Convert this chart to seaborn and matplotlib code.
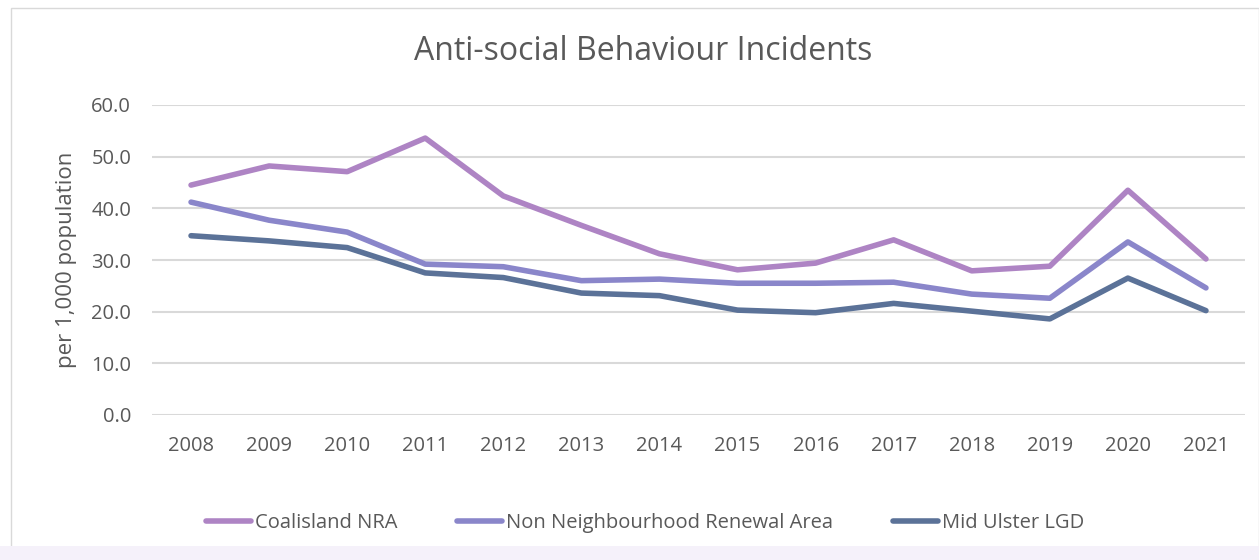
import matplotlib
matplotlib.use("Agg")
import matplotlib.pyplot as plt
import seaborn as sns
import pandas as pd
import numpy as np
from matplotlib.patches import Rectangle

years = [2008, 2009, 2010, 2011, 2012, 2013, 2014, 2015, 2016, 2017, 2018, 2019, 2020, 2021]
coalisland = [44.5, 48.2, 47.1, 53.6, 42.4, 36.7, 31.2, 28.1, 29.4, 33.9, 27.9, 28.8, 43.5, 30.2]
non_nra = [41.2, 37.7, 35.4, 29.2, 28.7, 26.0, 26.3, 25.5, 25.5, 25.7, 23.4, 22.6, 33.5, 24.6]
mid_ulster = [34.7, 33.7, 32.4, 27.5, 26.6, 23.6, 23.1, 20.3, 19.8, 21.6, 20.1, 18.6, 26.5, 20.2]

series_names = ["Coalisland NRA", "Non Neighbourhood Renewal Area", "Mid Ulster LGD"]
colors = ["#AE84C4", "#8A86CA", "#5B7298"]

df = pd.DataFrame({
    "year": [str(y) for y in years] * 3,
    "value": coalisland + non_nra + mid_ulster,
    "series": [series_names[0]] * 14 + [series_names[1]] * 14 + [series_names[2]] * 14,
})

sns.set_theme(style="white")
plt.rcParams["font.family"] = ["Open Sans", "DejaVu Sans"]

fig = plt.figure(figsize=(12.59, 5.6), dpi=100)
ax = fig.add_axes([152 / 1259, 1 - 415 / 560, (1245 - 152) / 1259, (415 - 105) / 560])

sns.lineplot(data=df, x="year", y="value", hue="series", palette=colors,
             linewidth=4, ax=ax, sort=False, solid_capstyle="round", legend=False)

ax.set_ylim(0, 60)
ax.set_yticks(np.arange(0, 61, 10))
ax.set_yticklabels([f"{v:.1f}" for v in np.arange(0, 61, 10)])
ax.set_xlim(-0.5, 13.5)
ax.grid(axis="y", color="#D9D9D9", linewidth=1.5)
ax.set_axisbelow(True)
for s in ax.spines.values():
    s.set_visible(False)
ax.tick_params(axis="y", length=0, labelsize=14.5, colors="#595959", pad=15)
ax.tick_params(axis="x", length=0, labelsize=14.5, colors="#595959", pad=15)
ax.set_xlabel("")
ax.set_ylabel("per 1,000 population", fontsize=16, color="#595959", labelpad=10)
fig.text(643 / 1259, 1 - 52 / 560, "Anti-social Behaviour Incidents", ha="center", va="center",
         fontsize=23, color="#595959")

# legend
handles = [plt.Line2D([0], [0], color=c, linewidth=4, solid_capstyle="round") for c in colors]
fig.legend(handles, series_names, loc="center", bbox_to_anchor=(645 / 1259, 1 - 523 / 560),
           ncol=3, frameon=False, fontsize=14.5, handlelength=2.2, handletextpad=0.2,
           columnspacing=3.0, labelcolor="#595959")

# chart border and bottom tint
fig.patches.append(Rectangle((11 / 1259, 1 - 548 / 560), (1259 - 11) / 1259, (548 - 8) / 560,
                             transform=fig.transFigure, fill=False, edgecolor="#D9D9D9", linewidth=1))
fig.patches.append(Rectangle((0, 0), 1, 14 / 560, transform=fig.transFigure,
                             facecolor="#F5F1FA", edgecolor="none"))

fig.savefig("out.png", dpi=100)
